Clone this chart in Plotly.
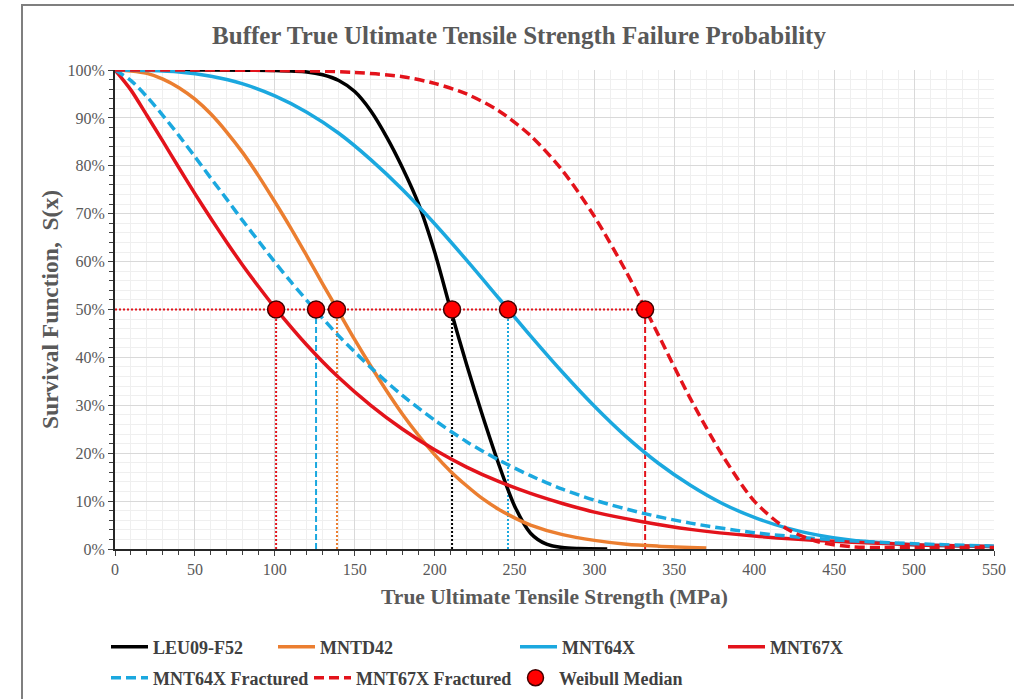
import plotly.graph_objects as go

# ---------------- data ----------------
leu_x = [0, 50, 100, 120, 130, 140, 150, 160, 170, 180, 190, 200, 210, 220, 230, 240, 250, 260, 270, 280, 290, 308]
leu_y = [100, 100, 99.9, 99.6, 99.0, 97.8, 95.5, 91.5, 86.0, 79.5, 72.0, 62.0, 50.0, 38.5, 27.8, 17.8, 9.0, 3.3, 1.0, 0.3, 0.1, 0.0]

mntd42_x = [0, 10, 20, 30, 40, 50, 60, 70, 80, 90, 100, 110, 120, 130, 140, 150, 160, 170, 180, 190, 200,
            210, 220, 230, 240, 250, 260, 280, 300, 320, 340, 370]
mntd42_y = [100, 99.8, 99.3, 98.1, 96.3, 93.9, 90.8, 87.0, 82.7, 77.8, 72.5, 67.0, 61.2, 55.3, 49.5, 43.7, 38.2,
            33.0, 28.1, 23.7, 19.7, 16.2, 13.2, 10.5, 8.3, 6.5, 5.0, 3.0, 1.8, 1.0, 0.6, 0.2]

mnt64_x = [0, 20, 40, 60, 80, 100, 120, 140, 160, 180, 200, 220, 240, 260, 280, 300, 320, 340, 360, 380, 400,
           420, 440, 460, 480, 500, 550]
mnt64_y = [100, 99.9, 99.6, 98.7, 97.1, 94.6, 91.2, 86.8, 81.3, 75.0, 67.9, 60.3, 52.4, 44.5, 36.9, 29.8, 23.4,
           17.9, 13.3, 9.5, 6.6, 4.4, 2.9, 1.9, 1.3, 0.9, 0.5]

mnt67_x = [0, 10, 20, 30, 40, 50, 60, 70, 80, 90, 100, 120, 140, 160, 180, 200, 220, 240, 260, 280, 300, 330,
           360, 400, 450, 500, 550]
mnt67_y = [100, 95.8, 90.5, 85.1, 79.6, 74.2, 69.0, 64.0, 59.2, 54.7, 50.4, 42.6, 35.8, 30.0, 25.0, 20.7, 17.1,
           14.1, 11.6, 9.5, 7.7, 5.7, 4.1, 2.7, 1.6, 0.9, 0.5]

mnt64f_x = [0, 10, 20, 30, 40, 50, 60, 70, 80, 90, 100, 110, 125, 140, 160, 180, 200, 220, 240, 260, 280, 300,
            330, 360, 400, 450, 500, 550]
mnt64f_y = [100, 97.8, 94.4, 90.5, 86.3, 81.9, 77.4, 73.0, 68.5, 64.2, 59.9, 55.8, 50.0, 44.5, 37.9, 32.0, 26.9,
            22.4, 18.6, 15.3, 12.5, 10.2, 7.5, 5.4, 3.4, 1.9, 1.1, 0.6]

mnt67f_x = [0, 50, 100, 150, 180, 200, 220, 240, 260, 280, 300, 320, 332, 340, 360, 380, 400, 420, 440, 460,
            480, 500, 550]
mnt67f_y = [100, 100, 99.9, 99.5, 98.6, 97.2, 95.0, 91.5, 86.3, 79.0, 69.4, 57.8, 50.0, 44.7, 31.4, 19.6, 10.0,
            4.3, 1.5, 0.5, 0.3, 0.3, 0.3]

# Weibull medians (MPa), in series order
median_names = ["LEU09-F52", "MNTD42", "MNT64X", "MNT67X", "MNT64X Fractured", "MNT67X Fractured"]
median_x = [210.9, 138.9, 245.9, 100.8, 125.8, 331.7]
median_level = 50

x_ticks = list(range(0, 551, 50))
y_ticks = list(range(0, 101, 10))
y_tick_labels = [f"{v}%" for v in y_ticks]

# ---------------- styles ----------------
BLACK = "#000000"
ORANGE = "#EB7E30"
BLUE = "#1BA8DF"
RED = "#E3131B"
SERIF = "Liberation Serif, Times New Roman, serif"
GRAY_TXT = "#595959"

series = [
    ("LEU09-F52", leu_x, leu_y, BLACK, "solid", "legend"),
    ("MNTD42", mntd42_x, mntd42_y, ORANGE, "solid", "legend"),
    ("MNT64X", mnt64_x, mnt64_y, BLUE, "solid", "legend3"),
    ("MNT67X", mnt67_x, mnt67_y, RED, "solid", "legend3"),
    ("MNT64X Fractured", mnt64f_x, mnt64f_y, BLUE, "10px,5px", "legend2"),
    ("MNT67X Fractured", mnt67f_x, mnt67f_y, RED, "10px,5px", "legend2"),
]
drop_styles = {
    "LEU09-F52": (BLACK, "2px,2px"),
    "MNTD42": (ORANGE, "2px,2px"),
    "MNT64X": (BLUE, "2px,2px"),
    "MNT67X": (RED, "2px,2px"),
    "MNT64X Fractured": (BLUE, "6px,3px"),
    "MNT67X Fractured": (RED, "6px,3px"),
}

fig = go.Figure()

# horizontal 50% guide
fig.add_trace(go.Scatter(x=[0, max(median_x)], y=[median_level, median_level], mode="lines",
                         line=dict(color=RED, width=2, dash="2px,2px"), showlegend=False, hoverinfo="skip"))
# vertical drop lines
for name, mx in zip(median_names, median_x):
    c, d = drop_styles[name]
    fig.add_trace(go.Scatter(x=[mx, mx], y=[0, median_level], mode="lines",
                             line=dict(color=c, width=2, dash=d), showlegend=False, hoverinfo="skip"))

for name, xs, ys, c, d, lg in series:
    fig.add_trace(go.Scatter(x=xs, y=ys, mode="lines", name=name, legend=lg,
                             line=dict(color=c, width=3.5, dash=d, shape="spline", smoothing=0.8)))

fig.add_trace(go.Scatter(x=median_x, y=[median_level] * len(median_x), mode="markers", name="Weibull Median",
                         legend="legend2",
                         marker=dict(size=17, color="#FF0000", line=dict(color="#400000", width=1.5))))

# plot area in pixels: x 115..994, y 70..549
W, H = 1014, 699
L, R, T, B = 115, 20, 70, 150
pw, ph = W - L - R, H - T - B


def px2paper_x(p):
    return (p - L) / pw


def px2paper_y(p):
    return (H - B - p) / ph


fig.add_shape(type="rect", xref="paper", yref="paper",
              x0=px2paper_x(22), x1=px2paper_x(1060), y0=px2paper_y(760), y1=px2paper_y(5),
              line=dict(color="#7f7f7f", width=2), fillcolor="rgba(0,0,0,0)", layer="below")

leg_font = dict(family=SERIF, size=18, color="#404040", weight="bold")


def legend_box(xpx, ypx, ew):
    return dict(orientation="h", x=px2paper_x(xpx), y=px2paper_y(ypx), xanchor="left", yanchor="middle",
                entrywidth=ew, entrywidthmode="pixels", itemwidth=37,
                font=leg_font, bgcolor="rgba(0,0,0,0)", traceorder="normal")


fig.update_layout(
    width=W, height=H,
    margin=dict(l=L, r=R, t=T, b=B, autoexpand=False),
    paper_bgcolor="white", plot_bgcolor="white",
    font=dict(family=SERIF, color=GRAY_TXT),
    title=dict(text="Buffer True Ultimate Tensile Strength Failure Probability",
               font=dict(family=SERIF, size=25, color=GRAY_TXT, weight="bold"),
               x=519 / W, xanchor="center", xref="container",
               y=1 - 35 / H, yanchor="middle", yref="container"),
    legend=legend_box(106, 647, 115),
    legend3=legend_box(515, 647, 156),
    legend2=legend_box(106, 678, 151),
    showlegend=True,
)

fig.update_xaxes(
    range=[0, 550], tickvals=x_ticks, ticks="outside", ticklen=5, tickwidth=1, tickcolor="#404040",
    showline=True, linecolor="#262626", linewidth=2, zeroline=False,
    showgrid=True, gridcolor="#d9d9d9", gridwidth=1,
    minor=dict(dtick=10, ticks="outside", ticklen=4, tickcolor="#404040", showgrid=True,
               gridcolor="#efefef", gridwidth=1),
    tickfont=dict(family=SERIF, size=16, color=GRAY_TXT),
    title=dict(text="True Ultimate Tensile Strength (MPa)", standoff=12,
               font=dict(family=SERIF, size=21.5, color=GRAY_TXT, weight="bold")),
)
fig.update_yaxes(
    range=[0, 100], tickvals=y_ticks, ticktext=y_tick_labels, ticks="outside", ticklen=5, tickwidth=1,
    tickcolor="#404040",
    showline=True, linecolor="#262626", linewidth=2, zeroline=False,
    showgrid=True, gridcolor="#d9d9d9", gridwidth=1,
    minor=dict(dtick=2, ticks="outside", ticklen=4, tickcolor="#404040", showgrid=True,
               gridcolor="#efefef", gridwidth=1),
    tickfont=dict(family=SERIF, size=16, color=GRAY_TXT),
    title=dict(text="Survival Function,  S(x)", standoff=2,
               font=dict(family=SERIF, size=23.5, color=GRAY_TXT, weight="bold")),
)

fig.write_html("out.html")
